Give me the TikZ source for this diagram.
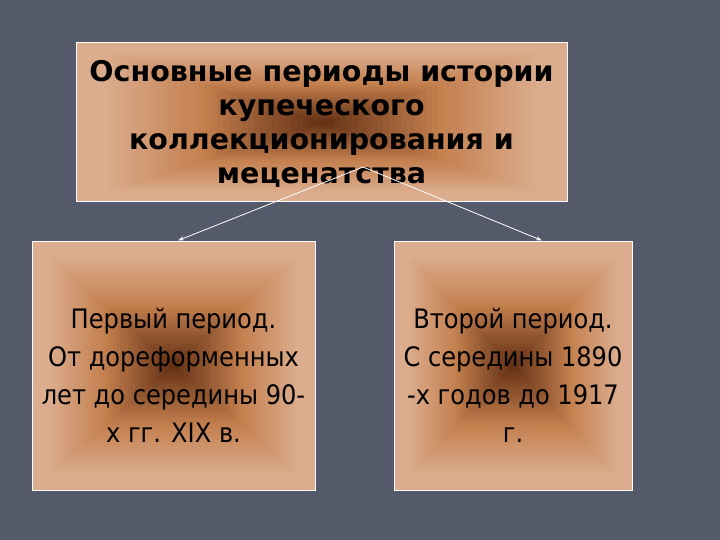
\documentclass[tikz,border=0pt]{standalone}
\usepackage{fontspec}
\setmainfont{DejaVu Sans}
\newfontfamily\titlefont{DejaVu Sans}
\newfontfamily\bodyfont{DejaVu Sans Condensed}
\usetikzlibrary{arrows.meta,calc}
\definecolor{bg}{HTML}{555A6A}
\definecolor{edgec}{HTML}{DBAD8E}
\definecolor{midc}{HTML}{C4804F}
\definecolor{cenc}{HTML}{5E2C12}
\newcommand\gradrect[4]{%
  \foreach \i in {0,...,40}{%
    \pgfmathsetmacro\t{\i/40}%
    \pgfmathtruncatemacro\pa{min(100,max(0,(\t-0.1)/0.4*100))}%
    \pgfmathtruncatemacro\pb{min(100,max(0,(\t-0.5)/0.5*100))}%
    \colorlet{gA}{midc!\pa!edgec}%
    \colorlet{gB}{cenc!\pb!gA}%
    \fill[gB] ({#1+(#3-#1)*\t/2},{#2+(#4-#2)*\t/2}) rectangle ({#3-(#3-#1)*\t/2},{#4-(#4-#2)*\t/2});
  }}
\tikzset{
  box/.style={draw=white, line width=1pt, inner sep=0pt},
  lbl/.style={inner sep=0pt, align=center, text=black},
  titletext/.style={font=\titlefont\bfseries\fontsize{28.5}{34}\selectfont},
  bodytext/.style={font=\bodyfont\fontsize{26.8}{38}\selectfont},
  link/.style={draw=white, line width=0.8pt, -{Stealth[length=6pt,width=4pt]}}
}
\begin{document}
\begin{tikzpicture}[x=1pt,y=-1pt]
\fill[bg] (0,0) rectangle (720,540);
\useasboundingbox (0,0) rectangle (720,540);
\gradrect{76}{43}{567}{202}
\gradrect{32}{241}{315}{490}
\gradrect{394}{241}{632}{490}
\node[box, minimum width=491pt, minimum height=159pt] (top) at (321.5,122.5) {};
\node[box, minimum width=283pt, minimum height=249pt] (left) at (173.5,365.5) {};
\node[box, minimum width=238pt, minimum height=249pt] (right) at (513,365.5) {};
\node[lbl, titletext] (toptext) at (321.5,124)
  {Основные периоды истории\\купеческого\\коллекционирования и\\меценатства};
\node[lbl, bodytext] (lefttext) at (173.5,375)
  {Первый период.\\От дореформенных\\лет до середины 90-\\х гг. XIX в.};
\node[lbl, bodytext] (righttext) at (513,375)
  {Второй период.\\С середины 1890\\-х годов до 1917\\г.};
\coordinate (src) at (363,167);
\draw[link] (src) -- (left.north -| 178,0);
\draw[link] (src) -- (right.north -| 542,0);
\end{tikzpicture}
\end{document}
